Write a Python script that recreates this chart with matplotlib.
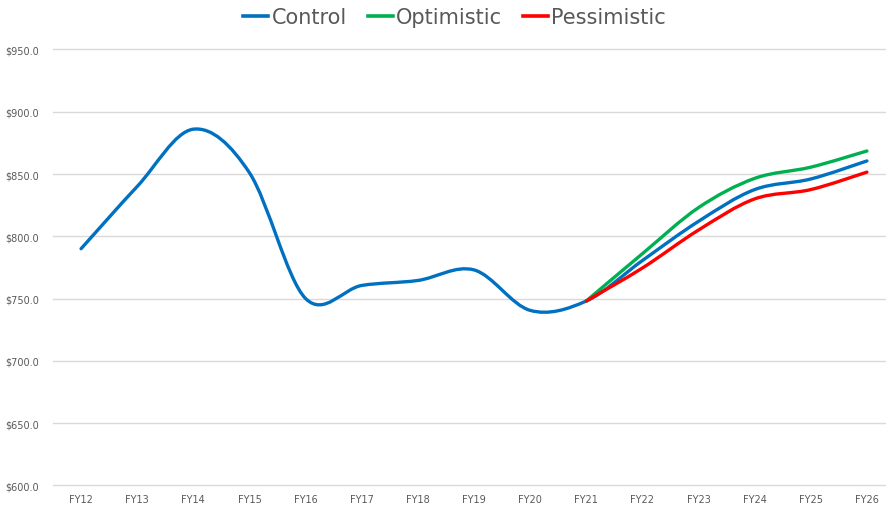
import matplotlib
matplotlib.use('Agg')
import matplotlib.pyplot as plt
from matplotlib.path import Path
from matplotlib.patches import PathPatch
from matplotlib.lines import Line2D

years = ['FY12', 'FY13', 'FY14', 'FY15', 'FY16', 'FY17', 'FY18', 'FY19',
         'FY20', 'FY21', 'FY22', 'FY23', 'FY24', 'FY25', 'FY26']
control = [790, 840, 886, 851, 750, 760.5, 764.5, 773, 740.5, 748,
           780.5, 812, 837.5, 846, 860.5]
# scenarios start at FY21
scen_years = years[9:]
optimistic = [748, 786, 823, 846.5, 855.5, 868.5]
pessimistic = [748, 774.5, 805, 830, 837.5, 851.5]

colors = {'Control': '#0070C0', 'Optimistic': '#00B050', 'Pessimistic': '#FF0000'}
text_grey = '#595959'


def smooth_path(xs, ys):
    # excel style smoothed line: cubic bezier through each point
    pts = list(zip(xs, ys))
    n = len(pts)
    verts = [pts[0]]
    codes = [Path.MOVETO]
    for i in range(n - 1):
        p0 = pts[i - 1] if i > 0 else pts[i]
        p1 = pts[i]
        p2 = pts[i + 1]
        p3 = pts[i + 2] if i + 2 < n else pts[i + 1]
        c1 = (p1[0] + (p2[0] - p0[0]) / 6, p1[1] + (p2[1] - p0[1]) / 6)
        c2 = (p2[0] - (p3[0] - p1[0]) / 6, p2[1] - (p3[1] - p1[1]) / 6)
        verts += [c1, c2, p2]
        codes += [Path.CURVE4] * 3
    return Path(verts, codes)


fig = plt.figure(figsize=(8.86, 5.06), dpi=100)
ax = fig.add_axes([53 / 886, 19.7 / 506, 833 / 886, 435.8 / 506])

series = [('Control', range(len(years)), control),
          ('Optimistic', range(9, 9 + len(scen_years)), optimistic),
          ('Pessimistic', range(9, 9 + len(scen_years)), pessimistic)]
for z, (name, xs, ys) in enumerate(series):
    patch = PathPatch(smooth_path(list(xs), ys), facecolor='none',
                      edgecolor=colors[name], lw=2.4, capstyle='round',
                      joinstyle='round', zorder=3 + z)
    ax.add_patch(patch)

ax.set_xlim(-0.5, 14.34)
ax.set_ylim(600, 950)
ax.set_yticks(range(600, 951, 50))
ax.set_yticklabels([f'${v:.1f}' for v in range(600, 951, 50)])
ax.set_xticks(range(len(years)))
ax.set_xticklabels(years)
ax.tick_params(axis='both', length=0, labelsize=7, labelcolor=text_grey)
ax.tick_params(axis='y', pad=10)
ax.tick_params(axis='x', pad=6)
ax.grid(axis='y', color='#d9d9d9', lw=1)
for gl in ax.get_ygridlines():
    gl.set_clip_on(False)
ax.set_axisbelow(True)
for s in ax.spines.values():
    s.set_visible(False)

handles = [Line2D([], [], color=colors[n], lw=2.6) for n in colors]
fig.legend(handles, list(colors), loc='center', bbox_to_anchor=(0.513, 0.964),
           ncol=3, frameon=False, fontsize=15, labelcolor=text_grey,
           handlelength=1.2, handletextpad=0.15, columnspacing=1.0)

fig.savefig('out.png', dpi=100)
